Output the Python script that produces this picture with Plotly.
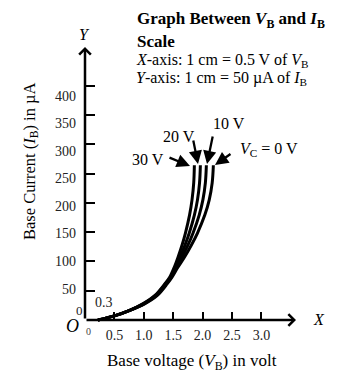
import plotly.graph_objects as go

# ---------------- data ----------------
# shared lower part of the input characteristics (V_B in volt, I_B in microampere)
V_common = [0.22, 0.5, 0.75]
I_common = [0, 7, 16]
# upper parts of the four curves (same currents, different voltages)
I_upper = [28, 42, 62, 73, 90, 108, 128, 148, 179, 205, 234, 264]
V_30 = [0.99, 1.19, 1.36, 1.440, 1.518, 1.585, 1.651, 1.707, 1.778, 1.820, 1.849, 1.860]
V_20 = [1.00, 1.20, 1.37, 1.452, 1.535, 1.619, 1.701, 1.772, 1.860, 1.913, 1.948, 1.962]
V_10 = [1.01, 1.215, 1.385, 1.465, 1.552, 1.653, 1.752, 1.836, 1.942, 2.005, 2.047, 2.064]
V_00 = [1.02, 1.23, 1.40, 1.480, 1.580, 1.696, 1.810, 1.911, 2.037, 2.113, 2.163, 2.183]
curve_names = ["30 V", "20 V", "10 V", "<i>V</i><sub>C</sub> = 0 V"]

x_tickvals = [0.5, 1.0, 1.5, 2.0, 2.5, 3.0]
x_ticktext = ["0.5", "1.0", "1.5", "2.0", "2.5", "3.0"]
y_tickvals = [50, 100, 150, 200, 250, 300, 350, 400]
y_ticktext = ["50", "100", "150", "200", "250", "300", "350", "400"]

# ---------------- layout helpers (pixel -> data) ----------------
W, H = 345, 380
X0, SX = 85.0, 58.8      # pixel of V=0, pixels per volt
Y0, SY = 320.0, 0.586    # pixel of I=0, pixels per microampere


def dx(px):
    return (px - X0) / SX


def dy(py):
    return (Y0 - py) / SY


FONT = "Liberation Serif, Times New Roman, serif"

fig = go.Figure()

for vs in [V_00, V_10, V_20, V_30]:
    fig.add_trace(go.Scatter(
        x=V_common + vs, y=I_common + I_upper, mode="lines",
        line=dict(color="black", width=3, shape="spline", smoothing=1.0),
        hoverinfo="skip", showlegend=False))

ann = []
# axes drawn as arrows
ann.append(dict(x=dx(296), y=0, ax=0, ay=0, xref="x", yref="y", axref="x", ayref="y",
                text="", showarrow=True, arrowhead=4, arrowsize=0.9, arrowwidth=2.5,
                arrowcolor="black"))
ann.append(dict(x=0, y=dy(47), ax=0, ay=0, xref="x", yref="y", axref="x", ayref="y",
                text="", showarrow=True, arrowhead=4, arrowsize=0.9, arrowwidth=2.5,
                arrowcolor="black"))


def txt(s, px, py, size, xanchor="center", color="black", **kw):
    ann.append(dict(x=dx(px), y=dy(py), xref="x", yref="y", text=s, showarrow=False,
                    xanchor=xanchor, yanchor="middle",
                    font=dict(family=FONT, size=size, color=color), **kw))


# y tick labels (in the reference they sit on a slightly compressed scale)
for v, t in zip(y_tickvals, y_ticktext):
    ann.append(dict(x=dx(78), y=dy(289 - 0.5514 * (v - 50)), xref="x", yref="y",
                    text=t, showarrow=False, xanchor="right", yanchor="middle",
                    font=dict(family=FONT, size=14, color="#222")))

# axis letters & origin
txt("<i>Y</i>", 84, 34, 16)
txt("<i>X</i>", 319, 319, 16)
txt("<i>O</i>", 72, 326, 18)
txt("0", 79, 310, 13, color="#222")
txt("0", 88, 331, 10, color="#444")
txt("0.3", 104, 302, 14, color="#222")

# axis titles
txt("Base Current (<i>I</i><sub>B</sub>) in µA", 30, 161, 16.5, textangle=-90)
txt("Base voltage (<i>V</i><sub>B</sub>) in volt", 192, 362, 17)

# header text
txt("<b>Graph Between <i>V</i><sub>B</sub> and <i>I</i><sub>B</sub></b>", 135, 20, 17, xanchor="left")
txt("<b>Scale</b>", 135, 41, 17, xanchor="left")
txt("<i>X</i>-axis: 1 cm = 0.5 V of <i>V</i><sub>B</sub>", 134, 60, 16, xanchor="left")
txt("<i>Y</i>-axis: 1 cm = 50 µA of <i>I</i><sub>B</sub>", 134, 78, 16, xanchor="left")

# curve labels
txt(curve_names[0], 148, 159, 16)
txt(curve_names[1], 179, 136, 16)
txt(curve_names[2], 229, 123, 16)
txt(curve_names[3], 238, 149, 16, xanchor="left")

# pointer arrows: (tip px, tip py, ax, ay)
for tx, ty, axp, ayp in [(190, 166, -22, -9), (198, 164, -5, -25),
                         (207, 164, 6, -29), (215, 165, 17, -12)]:
    ann.append(dict(x=dx(tx), y=dy(ty), xref="x", yref="y", ax=axp, ay=ayp,
                    text="", showarrow=True, arrowhead=2, arrowsize=1.15,
                    arrowwidth=2.3, arrowcolor="black"))

fig.update_layout(
    width=W, height=H, margin=dict(l=0, r=0, t=0, b=0),
    paper_bgcolor="white", plot_bgcolor="white",
    annotations=ann, showlegend=False,
    xaxis=dict(range=[dx(0), dx(W)], anchor="free", position=(H - Y0) / H,
               showgrid=False, zeroline=False, showline=False,
               tickvals=x_tickvals, ticktext=x_ticktext, ticks="inside",
               ticklen=8, tickwidth=2, tickcolor="black", ticklabelstandoff=5,
               tickfont=dict(family=FONT, size=14, color="#222"), fixedrange=True),
    yaxis=dict(range=[dy(H), dy(0)], anchor="free", position=X0 / W,
               showgrid=False, zeroline=False, showline=False,
               tickvals=y_tickvals, ticks="inside", showticklabels=False,
               ticklen=9, tickwidth=2, tickcolor="black", fixedrange=True),
)

fig.write_html("out.html")
